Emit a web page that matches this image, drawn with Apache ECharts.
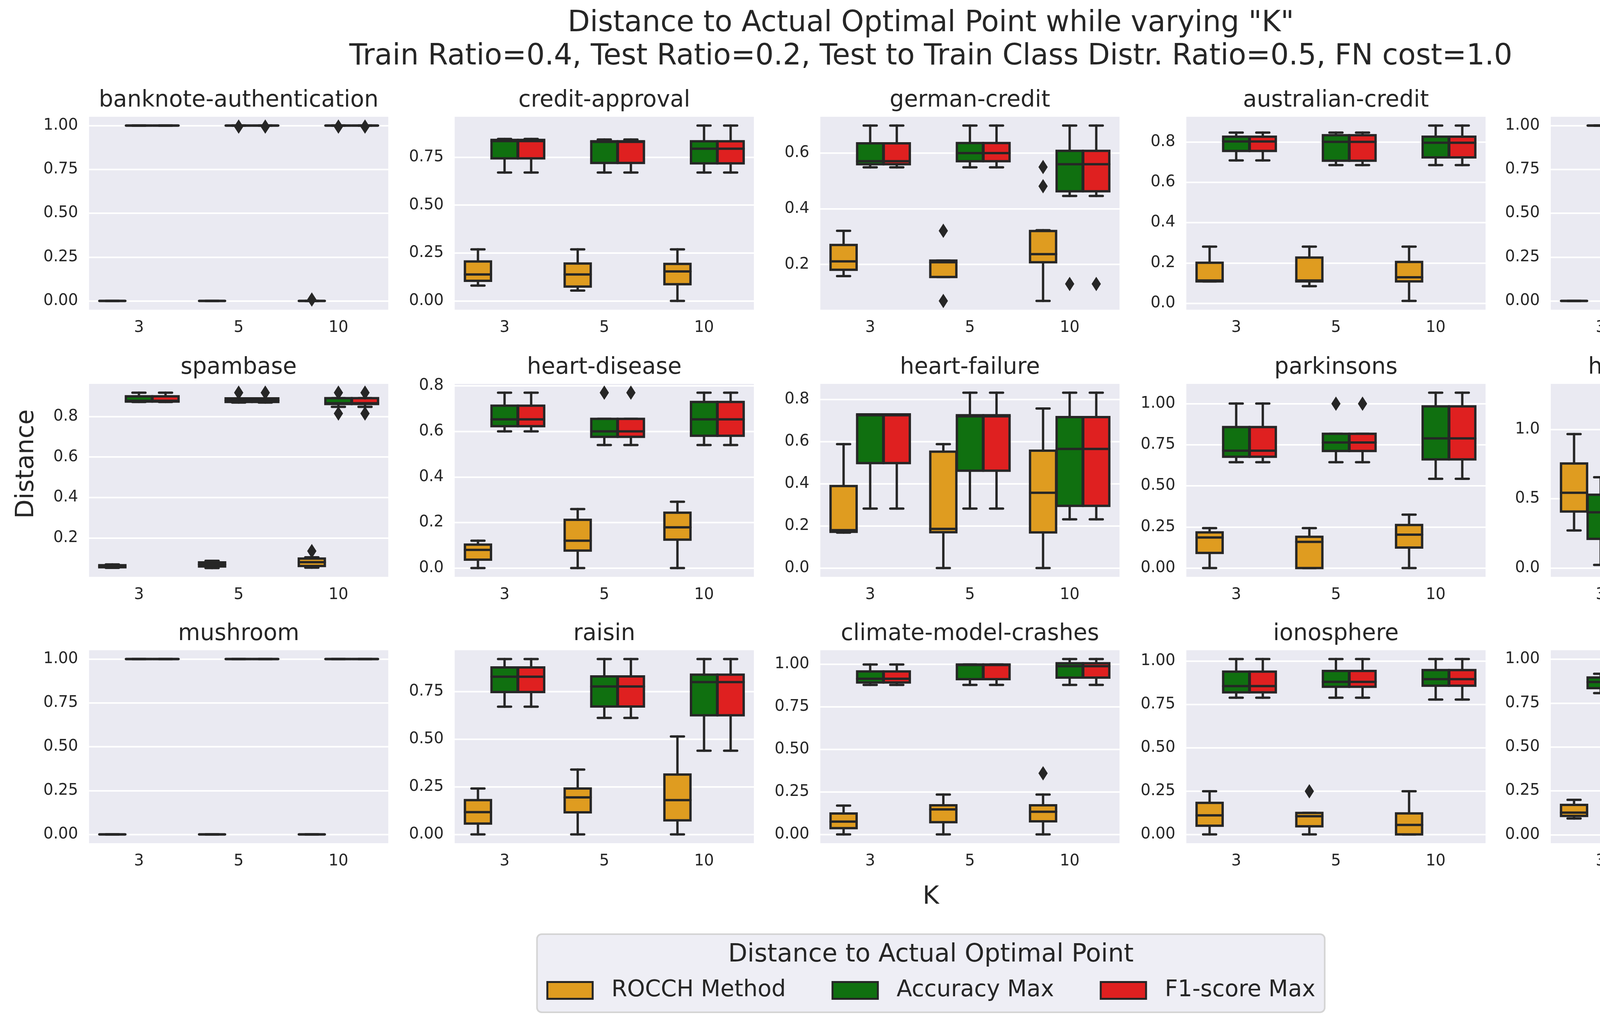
<!DOCTYPE html>
<html>
<head>
<meta charset="utf-8">
<script src="https://cdn.jsdelivr.net/npm/echarts@6/dist/echarts.min.js"></script>
<style>
  html, body { margin: 0; padding: 0; background: #fff; }
  #chart { width: 4766px; height: 2622px; }
</style>
</head>
<body>
<div id="chart"></div>
<script>
// datasets, one panel each (3 rows x 5 columns)
const datasetNames = [
  "banknote-authentication", "credit-approval", "german-credit", "australian-credit", "audit",
  "spambase", "heart-disease", "heart-failure", "parkinsons", "habermans-survival",
  "mushroom", "raisin", "climate-model-crashes", "ionosphere", "tic-tac-toe"
];
const kLabels = ["3", "5", "10"];
const methods = ["ROCCH Method", "Accuracy Max", "F1-score Max"];

// [min, Q1, median, Q3, max] for K = 3, 5, 10
const rocchBoxes = [
  [[0, 0, 0, 0, 0], [0, 0, 0, 0, 0], [0, 0, 0, 0, 0]],
  [[0.080, 0.105, 0.138, 0.206, 0.269], [0.054, 0.075, 0.138, 0.195, 0.269], [0, 0.087, 0.154, 0.193, 0.269]],
  [[0.158, 0.181, 0.211, 0.270, 0.321], [0.155, 0.155, 0.208, 0.214, 0.214], [0.069, 0.208, 0.237, 0.320, 0.323]],
  [[0.109, 0.109, 0.113, 0.201, 0.281], [0.085, 0.109, 0.113, 0.227, 0.281], [0.012, 0.109, 0.129, 0.205, 0.281]],
  [[0, 0, 0, 0, 0], [0, 0, 0, 0, 0], [0, 0, 0, 0, 0]],
  [[0.052, 0.055, 0.060, 0.065, 0.069], [0.051, 0.059, 0.069, 0.079, 0.087], [0.053, 0.061, 0.080, 0.098, 0.104]],
  [[0, 0.037, 0.080, 0.103, 0.120], [0, 0.077, 0.120, 0.212, 0.259], [0, 0.125, 0.179, 0.243, 0.291]],
  [[0.168, 0.172, 0.180, 0.389, 0.588], [0, 0.170, 0.186, 0.552, 0.588], [0, 0.169, 0.357, 0.557, 0.757]],
  [[0, 0.092, 0.186, 0.217, 0.243], [0, 0, 0.159, 0.190, 0.243], [0, 0.125, 0.203, 0.262, 0.325]],
  [[0.271, 0.408, 0.543, 0.754, 0.966], [0, 0.271, 0.503, 0.543, 0.543], [0, 0.229, 0.389, 0.640, 0.970]],
  [[0, 0, 0, 0, 0], [0, 0, 0, 0, 0], [0, 0, 0, 0, 0]],
  [[0, 0.057, 0.117, 0.180, 0.241], [0, 0.116, 0.194, 0.241, 0.340], [0, 0.074, 0.180, 0.314, 0.514]],
  [[0, 0.037, 0.075, 0.123, 0.169], [0, 0.072, 0.147, 0.171, 0.234], [0, 0.077, 0.133, 0.171, 0.234]],
  [[0, 0.050, 0.110, 0.182, 0.249], [0, 0.047, 0.105, 0.124, 0.124], [0, 0, 0.055, 0.121, 0.249]],
  [[0.093, 0.107, 0.126, 0.170, 0.199], [0.002, 0.014, 0.093, 0.133, 0.199], [0.002, 0.014, 0.093, 0.157, 0.213]]
];
const accuracyBoxes = [
  [[1, 1, 1, 1, 1], [1, 1, 1, 1, 1], [1, 1, 1, 1, 1]],
  [[0.670, 0.744, 0.834, 0.840, 0.845], [0.670, 0.720, 0.830, 0.833, 0.842], [0.670, 0.718, 0.794, 0.833, 0.915]],
  [[0.549, 0.560, 0.571, 0.635, 0.699], [0.549, 0.571, 0.600, 0.636, 0.699], [0.446, 0.463, 0.560, 0.608, 0.699]],
  [[0.708, 0.755, 0.802, 0.826, 0.846], [0.685, 0.707, 0.800, 0.833, 0.846], [0.685, 0.723, 0.796, 0.826, 0.881]],
  [[1, 1, 1, 1, 1], [1, 1, 1, 1, 1], [1, 1, 1, 1, 1]],
  [[0.872, 0.874, 0.878, 0.900, 0.918], [0.869, 0.872, 0.880, 0.890, 0.890], [0.848, 0.862, 0.866, 0.891, 0.891]],
  [[0.600, 0.623, 0.653, 0.713, 0.770], [0.540, 0.576, 0.600, 0.655, 0.655], [0.540, 0.581, 0.653, 0.729, 0.770]],
  [[0.282, 0.498, 0.725, 0.729, 0.729], [0.282, 0.462, 0.720, 0.725, 0.832], [0.231, 0.295, 0.565, 0.716, 0.832]],
  [[0.644, 0.677, 0.714, 0.858, 1.001], [0.644, 0.712, 0.764, 0.817, 0.817], [0.543, 0.661, 0.789, 0.984, 1.067]],
  [[0.023, 0.211, 0.402, 0.529, 0.655], [0.023, 0.320, 0.402, 0.655, 0.763], [0, 0.291, 0.491, 0.737, 1.265]],
  [[1, 1, 1, 1, 1], [1, 1, 1, 1, 1], [1, 1, 1, 1, 1]],
  [[0.670, 0.747, 0.827, 0.876, 0.920], [0.611, 0.671, 0.776, 0.829, 0.920], [0.439, 0.625, 0.799, 0.838, 0.920]],
  [[0.878, 0.892, 0.914, 0.957, 0.998], [0.878, 0.912, 0.995, 0.998, 0.998], [0.878, 0.921, 0.988, 1.005, 1.030]],
  [[0.789, 0.820, 0.856, 0.939, 1.012], [0.789, 0.852, 0.880, 0.943, 1.012], [0.778, 0.858, 0.896, 0.948, 1.012]],
  [[0.807, 0.835, 0.870, 0.896, 0.917], [0.807, 0.868, 0.917, 0.996, 1.001], [0.795, 0.844, 0.914, 0.992, 1.001]]
];
const f1Boxes = [
  [[1, 1, 1, 1, 1], [1, 1, 1, 1, 1], [1, 1, 1, 1, 1]],
  [[0.670, 0.744, 0.834, 0.840, 0.845], [0.670, 0.720, 0.830, 0.833, 0.842], [0.670, 0.718, 0.794, 0.833, 0.915]],
  [[0.549, 0.560, 0.571, 0.635, 0.699], [0.549, 0.571, 0.600, 0.636, 0.699], [0.446, 0.463, 0.560, 0.608, 0.699]],
  [[0.708, 0.755, 0.802, 0.826, 0.846], [0.685, 0.707, 0.800, 0.833, 0.846], [0.685, 0.723, 0.796, 0.826, 0.881]],
  [[1, 1, 1, 1, 1], [1, 1, 1, 1, 1], [1, 1, 1, 1, 1]],
  [[0.872, 0.874, 0.878, 0.900, 0.918], [0.869, 0.872, 0.880, 0.890, 0.890], [0.848, 0.862, 0.866, 0.891, 0.891]],
  [[0.600, 0.623, 0.653, 0.713, 0.770], [0.540, 0.576, 0.600, 0.655, 0.655], [0.540, 0.581, 0.653, 0.729, 0.770]],
  [[0.282, 0.498, 0.725, 0.729, 0.729], [0.282, 0.462, 0.720, 0.725, 0.832], [0.231, 0.295, 0.565, 0.716, 0.832]],
  [[0.644, 0.677, 0.714, 0.858, 1.001], [0.644, 0.712, 0.764, 0.817, 0.817], [0.543, 0.661, 0.789, 0.984, 1.067]],
  [[0.023, 0.211, 0.402, 0.529, 0.655], [0.023, 0.320, 0.402, 0.655, 0.763], [0, 0.291, 0.491, 0.737, 1.265]],
  [[1, 1, 1, 1, 1], [1, 1, 1, 1, 1], [1, 1, 1, 1, 1]],
  [[0.670, 0.747, 0.827, 0.876, 0.920], [0.611, 0.671, 0.776, 0.829, 0.920], [0.439, 0.625, 0.799, 0.838, 0.920]],
  [[0.878, 0.892, 0.914, 0.957, 0.998], [0.878, 0.912, 0.995, 0.998, 0.998], [0.878, 0.921, 0.988, 1.005, 1.030]],
  [[0.789, 0.820, 0.856, 0.939, 1.012], [0.789, 0.852, 0.880, 0.943, 1.012], [0.778, 0.858, 0.896, 0.948, 1.012]],
  [[0.807, 0.835, 0.870, 0.896, 0.917], [0.807, 0.868, 0.917, 0.996, 1.001], [0.795, 0.844, 0.914, 0.992, 1.001]]
];

// outliers: [dataset index, K index, value]
const rocchOutliers = [
  [0, 2, 0.008], [2, 1, 0.321], [2, 1, 0.069], [2, 2, 0.550], [2, 2, 0.481],
  [5, 2, 0.135], [9, 1, 0.966], [12, 2, 0.359], [13, 1, 0.249]
];
const accuracyOutliers = [
  [0, 1, 0.994], [0, 2, 0.994], [2, 2, 0.130], [5, 1, 0.918], [5, 2, 0.918],
  [5, 2, 0.815], [6, 1, 0.770], [8, 1, 1.0]
];
const f1Outliers = [
  [0, 1, 0.994], [0, 2, 0.994], [2, 2, 0.130], [5, 1, 0.918], [5, 2, 0.918],
  [5, 2, 0.815], [6, 1, 0.770], [8, 1, 1.0]
];

// y tick labels per panel
const yTickLabels = [
  ["0.00", "0.25", "0.50", "0.75", "1.00"],
  ["0.00", "0.25", "0.50", "0.75"],
  ["0.2", "0.4", "0.6"],
  ["0.0", "0.2", "0.4", "0.6", "0.8"],
  ["0.00", "0.25", "0.50", "0.75", "1.00"],
  ["0.2", "0.4", "0.6", "0.8"],
  ["0.0", "0.2", "0.4", "0.6", "0.8"],
  ["0.0", "0.2", "0.4", "0.6", "0.8"],
  ["0.00", "0.25", "0.50", "0.75", "1.00"],
  ["0.0", "0.5", "1.0"],
  ["0.00", "0.25", "0.50", "0.75", "1.00"],
  ["0.00", "0.25", "0.50", "0.75"],
  ["0.00", "0.25", "0.50", "0.75", "1.00"],
  ["0.00", "0.25", "0.50", "0.75", "1.00"],
  ["0.00", "0.25", "0.50", "0.75", "1.00"]
];

const methodBoxes = [rocchBoxes, accuracyBoxes, f1Boxes];
const methodOutliers = [rocchOutliers, accuracyOutliers, f1Outliers];
const methodColors = ["#DF9C20", "#107010", "#DF2020"];
const edgeColor = "#262626";
const textColor = "#262626";
const fontFamily = "DejaVu Sans";

// panel layout (px)
const panelLefts = [228, 1164, 2100, 3037, 3970];
const panelTops = [299, 983, 1665];
const panelWidth = 766;
const panelHeight = 494;

var chart = echarts.init(document.getElementById("chart"));

function boxRenderer(hue) {
  return function (params, api) {
    var k = api.value(0);
    var band = api.size([1, 0])[0];
    var slot = band * 0.8 / 3;
    var w = slot * 0.98;
    var cx = api.coord([k, 0])[0] + (hue - 1) * slot;
    var yOf = function (d) { return api.coord([k, api.value(d)])[1]; };
    var yMin = yOf(1), yQ1 = yOf(2), yMed = yOf(3), yQ3 = yOf(4), yMax = yOf(5);
    var line = function (x1, y1, x2, y2) {
      return {
        type: "line",
        shape: { x1: x1, y1: y1, x2: x2, y2: y2 },
        style: { stroke: edgeColor, lineWidth: 6, lineCap: "round" }
      };
    };
    return {
      type: "group",
      children: [
        line(cx, yQ1, cx, yMin),
        line(cx, yQ3, cx, yMax),
        line(cx - w / 4, yMin, cx + w / 4, yMin),
        line(cx - w / 4, yMax, cx + w / 4, yMax),
        {
          type: "rect",
          shape: { x: cx - w / 2, y: yQ3, width: w, height: yQ1 - yQ3 },
          style: { fill: methodColors[hue], stroke: edgeColor, lineWidth: 6 }
        },
        line(cx - w / 2, yMed, cx + w / 2, yMed)
      ]
    };
  };
}

function flierRenderer(hue) {
  return function (params, api) {
    var k = api.value(0);
    var band = api.size([1, 0])[0];
    var slot = band * 0.8 / 3;
    var p = api.coord([k, api.value(1)]);
    var cx = p[0] + (hue - 1) * slot, cy = p[1];
    return {
      type: "polygon",
      shape: { points: [[cx, cy - 17], [cx + 11, cy], [cx, cy + 17], [cx - 11, cy]] },
      style: { fill: edgeColor, stroke: edgeColor, lineWidth: 1.5 }
    };
  };
}

var grids = [], xAxes = [], yAxes = [], series = [];
var titles = [{
  text: 'Distance to Actual Optimal Point while varying "K"\nTrain Ratio=0.4, Test Ratio=0.2, Test to Train Class Distr. Ratio=0.5, FN cost=1.0',
  left: 2383, top: 18, textAlign: "center", padding: 0,
  textStyle: { fontSize: 74, lineHeight: 85, fontWeight: "normal", color: textColor, fontFamily: fontFamily }
}];

datasetNames.forEach(function (name, i) {
  var r = Math.floor(i / 5), c = i % 5;
  var left = panelLefts[c], top = panelTops[r];
  grids.push({
    left: left, top: top, width: panelWidth, height: panelHeight,
    show: true, backgroundColor: "#EAEAF2", borderWidth: 0, containLabel: false,
    outerBoundsMode: "none"
  });
  titles.push({
    text: name, left: left + panelWidth / 2, top: top - 70, textAlign: "center", padding: 0,
    textStyle: { fontSize: 58, fontWeight: "normal", color: textColor, fontFamily: fontFamily }
  });

  // y range: data extent plus 5% margins
  var vals = [];
  methodBoxes.forEach(function (mb) { mb[i].forEach(function (b) { vals = vals.concat(b); }); });
  methodOutliers.forEach(function (mo) { mo.forEach(function (o) { if (o[0] === i) vals.push(o[2]); }); });
  var lo = Math.min.apply(null, vals), hi = Math.max.apply(null, vals);
  var span = hi - lo;

  var labels = yTickLabels[i];
  var tickVals = labels.map(function (s) { return parseFloat(s); });

  xAxes.push({
    type: "category", gridIndex: i, data: kLabels, boundaryGap: true,
    axisLine: { show: false }, axisTick: { show: false }, splitLine: { show: false },
    axisLabel: { fontSize: 40, color: textColor, fontFamily: fontFamily, margin: 27 }
  });
  yAxes.push({
    type: "value", gridIndex: i, min: lo - 0.05 * span, max: hi + 0.05 * span,
    axisLine: { show: false },
    axisTick: { show: false, customValues: tickVals },
    splitLine: { show: true, lineStyle: { color: "#FFFFFF", width: 4 } },
    axisLabel: {
      customValues: tickVals, fontSize: 40, color: textColor, fontFamily: fontFamily, margin: 28,
      formatter: function (v) {
        var idx = tickVals.findIndex(function (t) { return Math.abs(t - v) < 1e-9; });
        return idx >= 0 ? labels[idx] : "";
      }
    }
  });

  methodBoxes.forEach(function (mb, m) {
    series.push({
      name: methods[m], type: "custom", xAxisIndex: i, yAxisIndex: i,
      renderItem: boxRenderer(m),
      encode: { x: 0, y: [1, 2, 3, 4, 5] },
      itemStyle: { color: methodColors[m] },
      data: mb[i].map(function (b, k) { return [k].concat(b); }),
      z: 2
    });
    var fl = methodOutliers[m].filter(function (o) { return o[0] === i; });
    if (fl.length) {
      series.push({
        name: methods[m], type: "custom", xAxisIndex: i, yAxisIndex: i,
        renderItem: flierRenderer(m),
        encode: { x: 0, y: 1 },
        itemStyle: { color: methodColors[m] },
        data: fl.map(function (o) { return [o[1], o[2]]; }),
        z: 3
      });
    }
  });
});

chart.setOption({
  animation: false,
  backgroundColor: "#FFFFFF",
  title: titles,
  grid: grids,
  xAxis: xAxes,
  yAxis: yAxes,
  series: series,
  legend: {
    left: "center", top: 2392, orient: "horizontal",
    padding: [115, 24, 27, 24],
    itemWidth: 116, itemHeight: 43, itemGap: 117,
    icon: "rect", selectedMode: false,
    backgroundColor: "#EEEEF5", borderColor: "#D4D4D4", borderWidth: 4, borderRadius: 12,
    textStyle: { fontSize: 58, color: textColor, fontFamily: fontFamily, padding: [0, 0, 0, 43] },
    data: methods.map(function (m, idx) {
      return { name: m, itemStyle: { color: methodColors[idx], borderColor: edgeColor, borderWidth: 5 } };
    })
  },
  graphic: [
    {
      type: "text", x: 68, y: 1188, rotation: Math.PI / 2, z: 100,
      style: { text: "Distance", fontSize: 64, fontFamily: fontFamily, fill: textColor, align: "center", verticalAlign: "middle" }
    },
    {
      type: "text", x: 2383, y: 2297, z: 100,
      style: { text: "K", fontSize: 64, fontFamily: fontFamily, fill: textColor, align: "center", verticalAlign: "middle" }
    },
    {
      type: "text", x: 2383, y: 2445, z: 100,
      style: { text: "Distance to Actual Optimal Point", fontSize: 64, fontFamily: fontFamily, fill: textColor, align: "center", verticalAlign: "middle" }
    }
  ]
});
</script>
</body>
</html>
